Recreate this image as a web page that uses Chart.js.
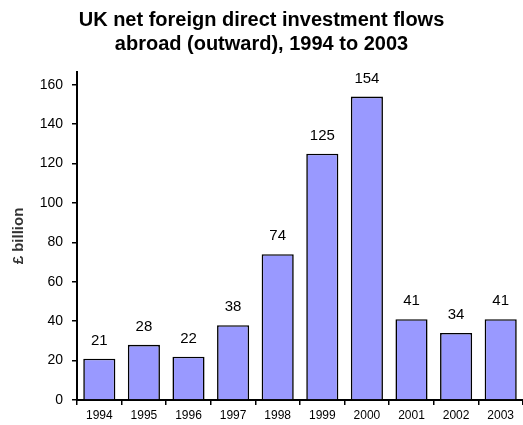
<!DOCTYPE html>
<html>
<head>
<meta charset="utf-8">
<script src="https://cdn.jsdelivr.net/npm/chart.js@4"></script>
<style>
  html, body { margin: 0; padding: 0; background: #fff; }
</style>
</head>
<body>
<canvas id="fdiChart" width="523" height="425"></canvas>
<script>
const years = ["1994", "1995", "1996", "1997", "1998", "1999", "2000", "2001", "2002", "2003"];
const outflows = [21, 28, 22, 38, 74, 125, 154, 41, 34, 41];
const yTicks = [0, 20, 40, 60, 80, 100, 120, 140, 160];

const FONT = "'Liberation Sans', Arial, sans-serif";

// value labels above each bar
const barLabels = {
  id: "barLabels",
  afterDatasetsDraw(chart) {
    const ctx = chart.ctx;
    const meta = chart.getDatasetMeta(0);
    ctx.save();
    ctx.font = "15px " + FONT;
    ctx.fillStyle = "#000";
    ctx.textAlign = "center";
    ctx.textBaseline = "alphabetic";
    meta.data.forEach((bar, i) => {
      ctx.fillText(String(outflows[i]), bar.x, bar.y - 14);
    });
    ctx.restore();
  }
};

new Chart(document.getElementById("fdiChart"), {
  type: "bar",
  data: {
    labels: years,
    datasets: [{
      data: outflows,
      backgroundColor: "#9999FF",
      borderColor: "#000",
      borderWidth: 1.6,
      barPercentage: 0.72,
      categoryPercentage: 1
    }]
  },
  options: {
    responsive: false,
    animation: false,
    layout: { padding: { left: 0, right: 0, top: 0, bottom: 0 } },
    plugins: {
      legend: { display: false },
      tooltip: { enabled: false },
      title: {
        display: true,
        text: ["UK net foreign direct investment flows", "abroad (outward), 1994 to 2003"],
        color: "#000",
        font: { family: FONT, size: 20, weight: "bold", lineHeight: 1.2 },
        padding: { top: 8, bottom: 16 }
      }
    },
    scales: {
      x: {
        grid: { display: true, drawOnChartArea: false, offset: true, color: "#000", tickLength: 5, lineWidth: 1.5 },
        border: { display: true, color: "#000", width: 2 },
        ticks: { color: "#000", font: { family: FONT, size: 12 }, padding: 3, maxRotation: 0, autoSkip: false },
        afterFit(scale) { scale.height = 25; }
      },
      y: {
        min: 0,
        max: 166.5,
        afterBuildTicks(scale) { scale.ticks = yTicks.map(v => ({ value: v })); },
        grid: { display: true, drawOnChartArea: false, color: "#000", tickLength: 5, lineWidth: 1.5 },
        border: { display: true, color: "#000", width: 2 },
        ticks: { color: "#000", font: { family: FONT, size: 14 }, padding: 9 },
        title: {
          display: true,
          text: "£ billion",
          color: "#333",
          font: { family: FONT, size: 15, weight: "bold" },
          padding: { top: 10, bottom: 0 }
        },
        afterFit(scale) { scale.width = 77; }
      }
    }
  },
  plugins: [barLabels]
});
</script>
</body>
</html>
